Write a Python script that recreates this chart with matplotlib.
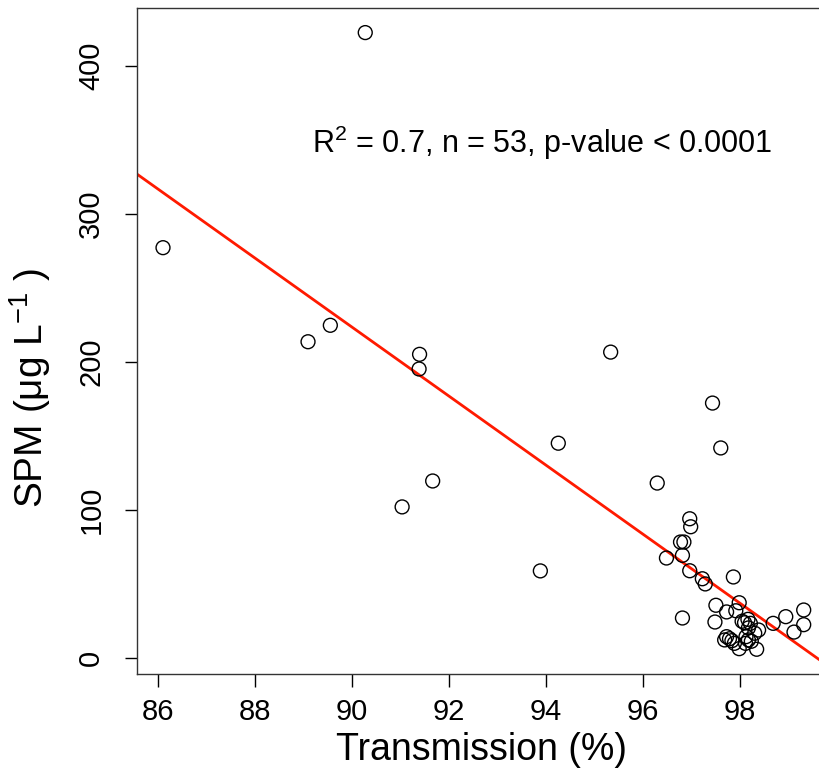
import numpy as np
import matplotlib
matplotlib.use("Agg")
import matplotlib.pyplot as plt

# ==========================================
# Data
# ==========================================

transmission = [
    90.27, 86.10, 89.09, 89.55, 91.39, 91.38, 91.66, 91.03,
    95.33, 94.25, 93.88,
    97.43, 97.60, 96.29, 96.96, 96.98, 96.77, 96.84, 96.48, 96.81,
    96.96, 97.22, 97.28, 97.86, 96.81, 97.50, 97.48, 97.72, 97.98,
    97.91, 98.04, 98.16, 98.21, 98.17, 98.38, 98.68, 98.94, 99.31,
    99.31, 99.11, 97.72, 97.78, 97.68, 97.88, 97.98, 98.12, 98.17,
    98.11, 98.34, 98.23, 98.30, 98.09, 97.83,
]
spm = [
    422.4, 277.2, 213.7, 224.8, 205.2, 195.3, 119.7, 102.2,
    206.7, 145.2, 59.0,
    172.3, 142.0, 118.3, 94.2, 88.8, 78.5, 78.5, 67.7, 69.5,
    59.1, 53.7, 50.2, 54.9, 27.2, 35.8, 24.5, 31.3, 37.5,
    32.1, 25.0, 26.3, 23.6, 20.5, 19.1, 23.6, 28.1, 32.6,
    22.7, 17.7, 14.6, 13.2, 12.4, 10.1, 6.5, 14.6, 12.4,
    10.1, 6.1, 11.5, 16.9, 24.0, 11.9,
]

# regression line as drawn in the reference
fit_slope = -23.3
fit_intercept = 2320.5

x_ticks = [86, 88, 90, 92, 94, 96, 98]
y_ticks = [0, 100, 200, 300, 400]

label_text = r"R$^2$ = 0.7, n = 53, p-value < 0.0001"

# ==========================================
# Style
# ==========================================

plt.rcParams["font.family"] = ["Liberation Sans", "DejaVu Sans"]
plt.rcParams["mathtext.fontset"] = "custom"
plt.rcParams["mathtext.rm"] = "Liberation Sans"
plt.rcParams["mathtext.it"] = "Liberation Sans:italic"
plt.rcParams["mathtext.default"] = "regular"

fig = plt.figure(figsize=(8.2, 7.74), dpi=100)
ax = fig.add_axes([137.3 / 820, 100 / 774, 689.2 / 820, 666 / 774])

# ==========================================
# Plot
# ==========================================

ax.scatter(transmission, spm, s=100, facecolors="none",
           edgecolors="black", linewidths=1.0, zorder=3)
ax.axline((0, fit_intercept), slope=fit_slope, color="#ff1a00",
          linewidth=2.0, zorder=2)

ax.set_xlim(85.57, 99.78)
ax.set_ylim(-10.6, 439.0)

ax.set_xticks(x_ticks)
ax.set_yticks(y_ticks)
ax.tick_params(axis="both", direction="out", length=9, width=1.0,
               labelsize=21, colors="black")
ax.tick_params(axis="x", pad=8)
ax.tick_params(axis="y", pad=14, labelrotation=90)
for lbl in ax.get_yticklabels():
    lbl.set_verticalalignment("center")

for sp in ax.spines.values():
    sp.set_linewidth(1.0)
    sp.set_color("#333333")

ax.set_xlabel("Transmission (%)", fontsize=27)
ax.xaxis.set_label_coords(0.5, -0.087)
ax.set_ylabel(r"SPM ($\mu$g L$^{-1}$ )", fontsize=28)
ax.yaxis.set_label_coords(-0.122, 0.43)

ax.text(89.17, 341.3, label_text, fontsize=22, ha="left", va="baseline")

plt.savefig("out.png", dpi=100)
plt.close()
